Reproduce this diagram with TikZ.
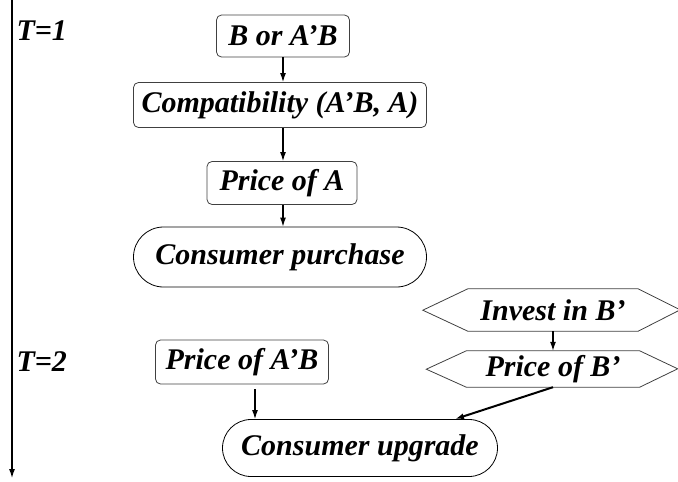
\documentclass[tikz,border=0pt]{standalone}
\usepackage{fontspec}
\setmainfont{Liberation Serif}
\usetikzlibrary{positioning,shapes.misc,arrows.meta,calc}

\tikzset{
  lbl/.style={font=\fontsize{30}{33}\selectfont\bfseries\itshape},
  tbox/.style={lbl, draw=black!75, line width=0.8pt, rounded corners=5pt, inner sep=0pt},
  pill/.style={lbl, draw=black, line width=0.8pt, rounded rectangle, inner sep=0pt},
  hexa/.style={lbl, inner sep=0pt},
  edge/.style={draw=black!75, line width=0.8pt},
  flow/.style={-{Latex[length=9pt,width=6pt]}, line width=1.2pt},
}

\begin{document}
\begin{tikzpicture}[x=1pt,y=-1pt]
\useasboundingbox (0,0) rectangle (678,482);
% time line
\coordinate (t0) at (12,0);
\coordinate (t1) at (12,478);
\draw[flow] (t0) -- (t1);
\node[lbl,anchor=west] (T1) at (13,31) {T=1};
\node[lbl,anchor=west] (T2) at (13,362) {T=2};

% period 1
\node[tbox,minimum width=133pt,minimum height=42pt] (bab) at (283,36) {B or A’B};
\node[tbox,minimum width=293pt,minimum height=45pt] (compat) at (280,105) {Compatibility (A’B, A)};
\node[tbox,minimum width=150pt,minimum height=43pt] (priceA) at (282,183) {Price of A};
\node[pill,minimum width=293pt,minimum height=60pt] (purchase) at (280,257) {Consumer purchase};
\draw[flow] (bab.south) -- (bab.south |- compat.north);
\draw[flow] (bab.south |- compat.south) -- (bab.south |- priceA.north);
\draw[flow] (bab.south |- priceA.south) -- (bab.south |- purchase.north);

% period 2
\node[hexa,minimum width=170pt,minimum height=42pt] (invest) at (553,310) {Invest in B’};
\draw[edge] (invest.north west) -- (invest.north east) -- ++(42,21)
  -- (invest.south east) -- (invest.south west) -- ++(-45,-21) -- cycle;
\node[hexa,minimum width=173pt,minimum height=36pt] (priceB) at (553,369) {Price of B’};
\draw[edge] (priceB.north west) -- (priceB.north east) -- ++(38,18)
  -- (priceB.south east) -- (priceB.south west) -- ++(-40,-18) -- cycle;
\node[tbox,minimum width=173pt,minimum height=44pt] (priceAB) at (242,362) {Price of A’B};
\node[pill,minimum width=275pt,minimum height=57pt] (upgrade) at (360,448) {Consumer upgrade};
\draw[flow] (invest.south) -- (priceB.north);
\draw[flow] ([xshift=13pt,yshift=-5pt]priceAB.south) -- ([xshift=13pt]priceAB.south |- upgrade.north);
\draw[flow,line width=2pt] (priceB.south) -- ([xshift=95pt]upgrade.north);
\end{tikzpicture}
\end{document}
